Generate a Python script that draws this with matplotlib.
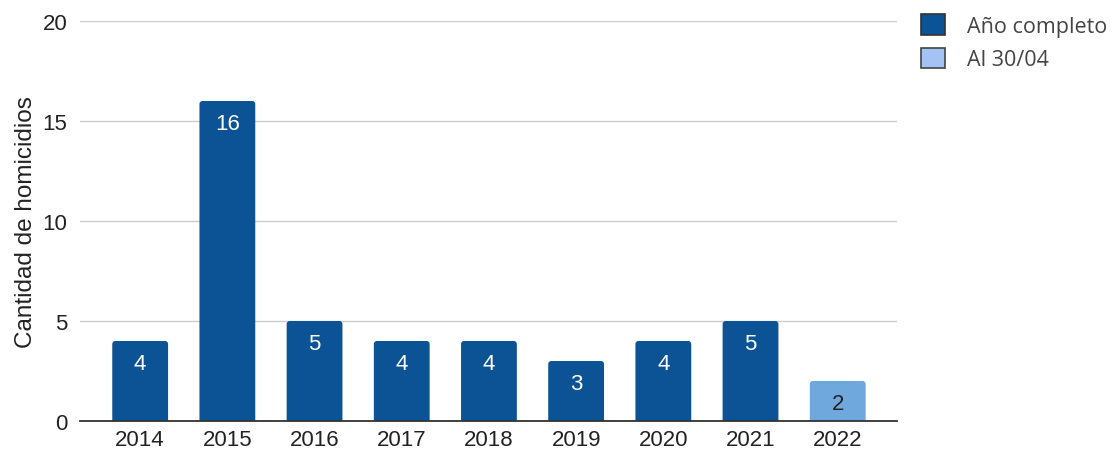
import matplotlib
matplotlib.use('Agg')
import matplotlib.pyplot as plt
from matplotlib.patches import Patch, FancyBboxPatch

# datos
years = ['2014', '2015', '2016', '2017', '2018', '2019', '2020', '2021', '2022']
homicidios = [4, 16, 5, 4, 4, 3, 4, 5, 2]
parcial = [False, False, False, False, False, False, False, False, True]
legend_labels = ['Año completo', 'Al 30/04']

dark = '#0b5394'
light_bar = '#6fa8dc'
light_leg = '#a4c2f4'

plt.rcParams['font.family'] = ['Liberation Sans', 'DejaVu Sans']
fs = 16

fig = plt.figure(figsize=(11.15, 4.56), dpi=100)
ax = fig.add_axes([80 / 1115, 34 / 456, 817 / 1115, 400 / 456])
ax.set_xlim(-0.69, 8.68)
ax.set_ylim(0, 20)

x = list(range(len(years)))
colors = [light_bar if p else dark for p in parcial]
bars = ax.bar(x, homicidios, width=0.64, color=colors, zorder=2)

# esquinas redondeadas (se reemplazan las barras)
aspect = (20 / 400) / (9.37 / 817)
for b in bars:
    bx, bw, bh = b.get_x(), b.get_width(), b.get_height()
    rp = FancyBboxPatch((bx, -0.3), bw, bh + 0.3,
                        boxstyle='round,pad=0,rounding_size=0.035',
                        mutation_aspect=aspect, facecolor=b.get_facecolor(),
                        edgecolor='none', zorder=2)
    ax.add_patch(rp)
    b.set_visible(False)

for xi, v, p in zip(x, homicidios, parcial):
    ax.annotate(str(v), (xi, v), xytext=(0, -16), textcoords='offset points',
                ha='center', va='center', fontsize=fs,
                color='#222222' if p else 'white', zorder=3)

ax.set_yticks([0, 5, 10, 15, 20])
ax.set_xticks(x)
ax.set_xticklabels(years)
ax.tick_params(axis='both', length=0, labelsize=fs, colors='#222222')
ax.tick_params(axis='x', pad=6)
ax.tick_params(axis='y', pad=9)
ax.grid(axis='y', color='#cccccc', linewidth=1, zorder=0)
for s in ['top', 'right', 'left']:
    ax.spines[s].set_visible(False)
ax.spines['bottom'].set_color('#333333')
ax.spines['bottom'].set_linewidth(1.3)
ax.spines['bottom'].set_zorder(3)
ax.set_ylabel('Cantidad de homicidios', fontsize=17.5, color='#222222', labelpad=4)

handles = [Patch(facecolor=dark, edgecolor='#333333', linewidth=1.2),
           Patch(facecolor=light_leg, edgecolor='#444444', linewidth=1.2)]
fig.legend(handles, legend_labels, loc='upper left',
           bbox_to_anchor=(902 / 1115, 1 + 4 / 456),
           frameon=False, handlelength=1.1, handleheight=1.1,
           handletextpad=1.0, labelspacing=0.5, labelcolor='#444444',
           prop={'family': 'Open Sans', 'size': 15.5})

fig.savefig('out.png', dpi=100)
